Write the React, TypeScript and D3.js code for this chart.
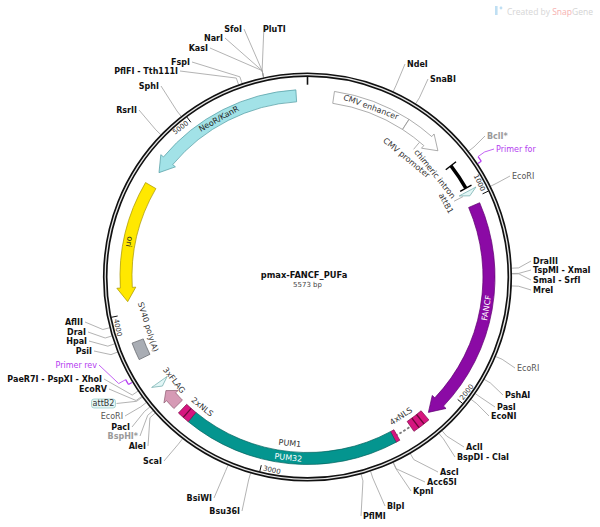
import React from "react";
import * as d3 from "d3";

// ---------------- DATA ----------------
const TOTAL_BP = 5573;
const PLASMID_NAME = "pmax-FANCF_PUFa";
const PLASMID_SIZE = "5573 bp";

const tickPositions = [0, 1000, 2000, 3000, 4000, 5000];
const tickLabels = ["", "1000", "2000", "3000", "4000", "5000"];

const featureNames = ["CMV enhancer", "CMV promoter", "chimeric intron", "attB1", "FANCF", "4xNLS", "linker", "NLS", "PUM32", "2xNLS", "3xFLAG", "attB2", "SV40 poly(A)", "ori", "NeoR/KanR"];
const featureStart = [128, 508, 808, 958, 1032, 2162, 2258, 2330, 2350, 3398, 3490, 3608, 3775, 4059, 4723];
const featureEnd = [507, 711, 940, 982, 2140, 2251, 2330, 2350, 3398, 3460, 3580, 3633, 3860, 4648, 5518];
const featureStrand = [0, 1, 0, 1, 1, 0, 0, 0, 0, 0, 1, -1, 0, -1, -1];

const featureLabelText = ["CMV enhancer", "CMV promoter", "chimeric intron", "attB1", "FANCF", "4xNLS", "PUM32", "PUM1", "2xNLS", "3xFLAG", "SV40 poly(A)", "ori", "NeoR/KanR"];
const featureLabelBp = [317, 615, 790, 960, 1545, 2262, 2880, 2880, 3390, 3596, 3910, 4353, 5120];

const enzymeNames = ["PluTI", "SfoI", "NarI", "KasI", "FspI", "PflFI - Tth111I", "SphI", "RsrII", "NdeI", "SnaBI", "BclI*", "EcoRI", "DraIII", "TspMI - XmaI", "SmaI - SrfI", "MreI", "EcoRI", "PshAI", "PasI", "EcoNI", "AclI", "BspDI - ClaI", "AscI", "Acc65I", "KpnI", "BlpI", "PflMI", "Bsu36I", "BsiWI", "ScaI", "AleI", "BspHI*", "PacI", "EcoRI", "EcoRV", "PaeR7I - PspXI - XhoI", "PsiI", "HpaI", "DraI", "AflII"];
const enzymeSites = [5381, 5381, 5381, 5381, 5284, 5268, 4982, 4863, 384, 495, 805, 985, 1355, 1378, 1380, 1432, 1748, 1859, 1932, 1963, 2149, 2167, 2319, 2402, 2403, 2508, 2551, 3037, 3141, 3370, 3533, 3547, 3568, 3593, 3626, 3654, 3846, 3884, 3920, 3957];

const primerNames = ["Primer for", "Primer rev"];
const primerStart = [848, 3700];
const primerEnd = [872, 3724];
const primerStrand = [1, -1];

const attB2Label = "attB2";
const attB2Site = 3622;

// ---------------- LAYOUT / STYLE ----------------
const W = 600, H = 527;
const cx = 307.5, cy = 277;
const RING = 202.3;
const F_IN = 175.5, F_OUT = 187.5, F_MID = (F_IN + F_OUT) / 2;

const enzymeLabelLayout: [string, number, number][] = [
  ["s", 263, 32], ["e", 242, 32], ["e", 223, 41], ["e", 208, 51], ["e", 190, 65], ["e", 178, 74], ["e", 159, 89], ["e", 137, 113],
  ["s", 407, 67], ["s", 430, 82], ["s", 487, 139], ["s", 512, 179],
  ["s", 533, 264], ["s", 533, 273], ["s", 533, 283], ["s", 533, 293],
  ["s", 517, 371], ["s", 505, 398], ["s", 497, 410], ["s", 491, 419],
  ["s", 466, 450], ["s", 457, 460], ["s", 440, 475], ["s", 427, 485], ["s", 413, 494], ["s", 387, 509], ["s", 363, 519],
  ["e", 240, 514], ["e", 212, 501], ["e", 162, 464], ["e", 146, 449], ["e", 138, 439], ["e", 130, 430], ["e", 123, 419],
  ["e", 107, 392], ["e", 102, 382], ["e", 92, 354], ["e", 87, 344], ["e", 86, 335], ["e", 83, 325],
];
const primerLabelLayout: [string, number, number][] = [["s", 496, 152], ["e", 97, 368]];
const attB2Box = { x: 91.5, y: 399, w: 24, h: 9 };

const featureStyle: Record<string, { kind: string; fill: string; stroke: string; head: number; stripes?: number }> = {
  "CMV enhancer": { kind: "shape", fill: "#ffffff", stroke: "#8a8a8a", head: 0 },
  "CMV promoter": { kind: "shape", fill: "#ffffff", stroke: "#8a8a8a", head: 14 },
  "chimeric intron": { kind: "intron", fill: "#000", stroke: "#000", head: 0 },
  "attB1": { kind: "shape", fill: "#e2f6f6", stroke: "#6aa7a7", head: 6 },
  "FANCF": { kind: "shape", fill: "#8b0aa5", stroke: "#5e0070", head: 15 },
  "4xNLS": { kind: "shape", fill: "#d6157f", stroke: "#7a0a47", head: 0, stripes: 3 },
  "linker": { kind: "dash", fill: "none", stroke: "#7a7a7a", head: 0 },
  "NLS": { kind: "shape", fill: "#d6157f", stroke: "#7a0a47", head: 0 },
  "PUM32": { kind: "shape", fill: "#04958f", stroke: "#02615d", head: 0 },
  "2xNLS": { kind: "shape", fill: "#d6157f", stroke: "#7a0a47", head: 0, stripes: 2 },
  "3xFLAG": { kind: "shape", fill: "#d69ab5", stroke: "#8c5a70", head: 8 },
  "attB2": { kind: "shape", fill: "#e2f6f6", stroke: "#6aa7a7", head: 6 },
  "SV40 poly(A)": { kind: "shape", fill: "#a9adb4", stroke: "#5d6066", head: 0 },
  "ori": { kind: "shape", fill: "#ffe800", stroke: "#a59400", head: 14 },
  "NeoR/KanR": { kind: "shape", fill: "#a2e2e7", stroke: "#4f9aa0", head: 15 },
};

const featureLabelStyle: Record<string, { r: number; color: string }> = {
  "CMV enhancer": { r: F_MID, color: "#333" },
  "CMV promoter": { r: 155, color: "#333" },
  "chimeric intron": { r: 164, color: "#333" },
  "attB1": { r: 157, color: "#333" },
  "FANCF": { r: F_MID, color: "#ffffff" },
  "4xNLS": { r: 167.5, color: "#333" },
  "PUM32": { r: F_MID, color: "#ffffff" },
  "PUM1": { r: 167, color: "#333" },
  "2xNLS": { r: 167, color: "#333" },
  "3xFLAG": { r: 168.5, color: "#333" },
  "SV40 poly(A)": { r: 167, color: "#333" },
  "ori": { r: F_MID, color: "#222" },
  "NeoR/KanR": { r: F_MID, color: "#222" },
};

const FONT = "'DejaVu Sans', Verdana, sans-serif";
const PRIMER_COLOR = "#b43cf0";

// ---------------- HELPERS ----------------
const angle = d3.scaleLinear().domain([0, TOTAL_BP]).range([0, 2 * Math.PI]);
const pol = (r: number, a: number): [number, number] => [cx + r * Math.sin(a), cy - r * Math.cos(a)];
const HP = Math.PI / 2;

function degOf(a: number) {
  let d = (a * 180) / Math.PI;
  return ((d % 360) + 360) % 360;
}
function flipped(a: number) {
  const d = degOf(a);
  return d > 90 && d < 290;
}
function tangentRot(a: number) {
  const d = degOf(a);
  if (d > 90 && d < 290) return d - 180;
  if (d >= 290) return d - 360;
  return d;
}

function shapePath(a0: number, a1: number, r0: number, r1: number, dir: number, headPx: number) {
  const p = d3.path();
  const rm = (r0 + r1) / 2;
  const ext = 3.5;
  const span = a1 - a0;
  const h = dir === 0 || headPx === 0 ? 0 : Math.min(headPx / rm, span);
  if (dir >= 0) {
    const b = a1 - h;
    p.moveTo(...pol(r1, a0));
    if (b > a0) p.arc(cx, cy, r1, a0 - HP, b - HP, false);
    if (h > 0) {
      p.lineTo(...pol(r1 + ext, b));
      p.lineTo(...pol(rm, a1));
      p.lineTo(...pol(r0 - ext, b));
      p.lineTo(...pol(r0, b));
    } else {
      p.lineTo(...pol(r0, b));
    }
    if (b > a0) p.arc(cx, cy, r0, b - HP, a0 - HP, true);
    p.closePath();
  } else {
    const b = a0 + h;
    p.moveTo(...pol(r1, a1));
    if (a1 > b) p.arc(cx, cy, r1, a1 - HP, b - HP, true);
    p.lineTo(...pol(r1 + ext, b));
    p.lineTo(...pol(rm, a0));
    p.lineTo(...pol(r0 - ext, b));
    p.lineTo(...pol(r0, b));
    if (a1 > b) p.arc(cx, cy, r0, b - HP, a1 - HP, false);
    p.closePath();
  }
  return p.toString();
}

function arcPath(a0: number, a1: number, r: number) {
  const p = d3.path();
  p.moveTo(...pol(r, a0));
  p.arc(cx, cy, r, a0 - HP, a1 - HP, false);
  return p.toString();
}

function TangentText({ text, a, r, color, size = 8, weight = "normal", anchor = "middle" }: any) {
  const [x, y] = pol(r, a);
  return (
    <text x={x} y={y} dy="0.35em" textAnchor={anchor} fontSize={size} fontWeight={weight} fill={color} fontFamily={FONT}
      transform={`rotate(${tangentRot(a)},${x},${y})`}>
      {text}
    </text>
  );
}

// ---------------- COMPONENT ----------------
export default function App() {
  const features = featureNames.map((n, i) => ({
    name: n,
    a0: angle(featureStart[i]),
    a1: angle(featureEnd[i]),
    dir: featureStrand[i],
    style: featureStyle[n],
  }));

  return (
    <svg width={W} height={H} viewBox={`0 0 ${W} ${H}`} style={{ display: "block", position: "absolute", left: 0, top: 0, background: "#fff" }}>
      <rect width={W} height={H} fill="#fff" />

      {/* watermark */}
      <g opacity={0.9}>
        <rect x={495} y={6} width={2.6} height={9} fill="#b9dcf2" />
        <circle cx={501} cy={8} r={1.4} fill="#b9dcf2" />
        <text x={507} y={14.5} fontSize={8.5} fontFamily="'Open Sans', sans-serif">
          <tspan fill="#d2d2d2">Created by </tspan>
          <tspan fill="#f6a9a9">Snap</tspan>
          <tspan fill="#cfcfcf">Gene</tspan>
        </text>
      </g>

      {/* enzyme leader lines */}
      {enzymeNames.map((n, i) => {
        const a = angle(enzymeSites[i]);
        const [anc, lx, ly] = enzymeLabelLayout[i];
        const ax = i === 0 ? lx + 1 : anc === "e" ? lx + 2 : lx - 2;
        const ay = i === 0 ? ly - 7 : ly - 3;
        const p0 = pol(RING + 2, a);
        const p1 = pol(RING + 9, a);
        return <polyline key={"el" + i} points={`${p0.join(",")} ${p1.join(",")} ${ax},${ay}`} fill="none" stroke="#a0a0a0" strokeWidth={0.8} />;
      })}
      {/* attB2 leader */}
      {(() => {
        const a = angle(attB2Site);
        const p0 = pol(RING + 2, a);
        const p1 = pol(RING + 9, a);
        return <polyline points={`${p0.join(",")} ${p1.join(",")} ${attB2Box.x + attB2Box.w + 1},${attB2Box.y + attB2Box.h / 2}`} fill="none" stroke="#a0a0a0" strokeWidth={0.8} />;
      })()}

      {/* ring */}
      <circle cx={cx} cy={cy} r={RING} fill="none" stroke="#111" strokeWidth={4.6} />
      <circle cx={cx} cy={cy} r={RING} fill="none" stroke="#e6e6e6" strokeWidth={1.3} />

      {/* ticks */}
      {tickPositions.map((t, i) => {
        const a = angle(t);
        const p0 = pol(RING - 2, a);
        const p1 = pol(t === 0 ? RING - 10 : RING - 8.5, a);
        return <line key={"tk" + i} x1={p0[0]} y1={p0[1]} x2={p1[0]} y2={p1[1]} stroke="#111" strokeWidth={t === 0 ? 1.6 : 1} />;
      })}
      {tickLabels.map((lab, i) => {
        if (!lab) return null;
        const a = angle(tickPositions[i]);
        const ga = a - 2.5 / 196;
        return <TangentText key={"tl" + i} text={lab} a={ga} r={196} color="#333" size={7} anchor={flipped(a) ? "start" : "end"} />;
      })}

      {/* features */}
      {features.map((f, i) => {
        const s = f.style;
        if (s.kind === "intron") {
          const c0 = [pol(F_IN - 0.5, f.a0), pol(F_OUT + 0.5, f.a0)];
          const c1 = [pol(F_IN - 0.5, f.a1), pol(F_OUT + 0.5, f.a1)];
          return (
            <g key={"f" + i}>
              <path d={arcPath(f.a0, f.a1, F_MID)} fill="none" stroke="#000" strokeWidth={3.6} />
              <line x1={c0[0][0]} y1={c0[0][1]} x2={c0[1][0]} y2={c0[1][1]} stroke="#000" strokeWidth={1.4} />
              <line x1={c1[0][0]} y1={c1[0][1]} x2={c1[1][0]} y2={c1[1][1]} stroke="#000" strokeWidth={1.4} />
            </g>
          );
        }
        if (s.kind === "dash") {
          return <path key={"f" + i} d={arcPath(f.a0, f.a1, F_MID)} fill="none" stroke={s.stroke} strokeWidth={1.8} strokeDasharray="2.6,2" />;
        }
        const stripes = s.stripes || 0;
        return (
          <g key={"f" + i}>
            <path d={shapePath(f.a0, f.a1, F_IN, F_OUT, f.dir, s.head)} fill={s.fill} stroke={s.stroke} strokeWidth={0.7} />
            {stripes > 1 &&
              d3.range(1, stripes).map((k) => {
                const a = f.a0 + ((f.a1 - f.a0) * k) / stripes;
                const q0 = pol(F_IN, a), q1 = pol(F_OUT, a);
                return <line key={k} x1={q0[0]} y1={q0[1]} x2={q1[0]} y2={q1[1]} stroke="#6a0839" strokeWidth={1.3} />;
              })}
          </g>
        );
      })}

      {/* feature label leaders */}
      {(() => {
        const a = angle(featureLabelBp[1]);
        const p0 = pol(F_IN - 0.5, a), p1 = pol(166, a);
        const b = angle(970);
        const q0 = pol(F_IN - 0.5, b), q1 = pol(165, b);
        return (
          <g stroke="#9a9a9a" strokeWidth={0.8}>
            <line x1={p0[0]} y1={p0[1]} x2={p1[0]} y2={p1[1]} />
            <line x1={q0[0]} y1={q0[1]} x2={q1[0]} y2={q1[1]} />
          </g>
        );
      })()}

      {/* feature labels */}
      {featureLabelText.map((t, i) => {
        const st = featureLabelStyle[t];
        return <TangentText key={"fl" + i} text={t} a={angle(featureLabelBp[i])} r={st.r} color={st.color} size={8} />;
      })}

      {/* primers */}
      {primerNames.map((n, i) => {
        const a0 = angle(primerStart[i]), a1 = angle(primerEnd[i]);
        const rr = RING + 6.5;
        const tipA = primerStrand[i] > 0 ? a1 : a0;
        const t0 = pol(rr, tipA), t1 = pol(rr - 4, tipA);
        const midA = primerStrand[i] > 0 ? a0 : a1;
        const m0 = pol(rr, midA), m1 = pol(rr + 8, midA);
        const [anc, lx, ly] = primerLabelLayout[i];
        const ax = anc === "e" ? lx + 2 : lx - 2;
        return (
          <g key={"pr" + i}>
            <path d={arcPath(a0, a1, rr)} fill="none" stroke={PRIMER_COLOR} strokeWidth={1.3} />
            <line x1={t0[0]} y1={t0[1]} x2={t1[0]} y2={t1[1]} stroke={PRIMER_COLOR} strokeWidth={1.3} />
            <polyline points={`${m0.join(",")} ${m1.join(",")} ${ax},${ly - 3}`} fill="none" stroke={PRIMER_COLOR} strokeWidth={0.8} />
            <text x={lx} y={ly} textAnchor={anc === "e" ? "end" : "start"} fontSize={8} fill={PRIMER_COLOR} fontFamily={FONT}>{n}</text>
          </g>
        );
      })}

      {/* enzyme labels */}
      {enzymeNames.map((n, i) => {
        const [anc, lx, ly] = enzymeLabelLayout[i];
        const methyl = n.endsWith("*");
        const multi = n === "EcoRI";
        return (
          <text key={"en" + i} x={lx} y={ly} textAnchor={anc === "e" ? "end" : "start"} fontSize={8}
            fontWeight={multi ? "normal" : "bold"} fill={methyl ? "#9a9a9a" : multi ? "#555" : "#111"} fontFamily={FONT}>
            {n}
          </text>
        );
      })}

      {/* attB2 boxed label */}
      <rect x={attB2Box.x} y={attB2Box.y} width={attB2Box.w} height={attB2Box.h} rx={2.5} fill="#e4f6f5" stroke="#8fc7c4" strokeWidth={0.7} />
      <text x={attB2Box.x + attB2Box.w / 2} y={attB2Box.y + 7.3} textAnchor="middle" fontSize={8} fill="#333" fontFamily={FONT}>{attB2Label}</text>

      {/* center title */}
      <text x={cx - 3.5} y={278} textAnchor="middle" fontSize={8.3} fontWeight="bold" fill="#111" fontFamily={FONT}>{PLASMID_NAME}</text>
      <text x={cx} y={287} textAnchor="middle" fontSize={7} fill="#444" fontFamily={FONT}>{PLASMID_SIZE}</text>
    </svg>
  );
}
